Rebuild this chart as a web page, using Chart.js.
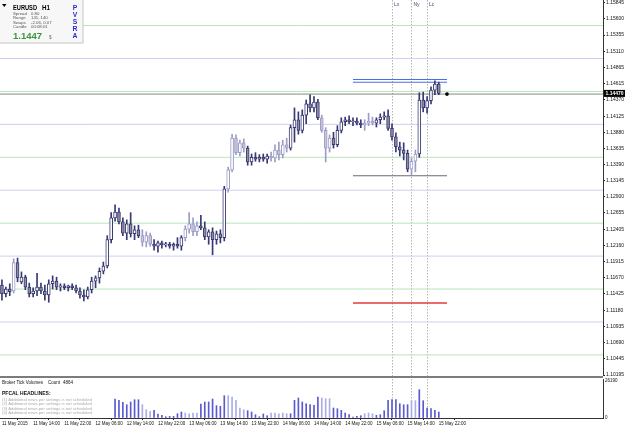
<!DOCTYPE html>
<html><head><meta charset="utf-8">
<script src="https://cdn.jsdelivr.net/npm/chart.js@4.4.1/dist/chart.umd.min.js"></script>
<style>
html,body{margin:0;padding:0;background:#fff;width:625px;height:429px;overflow:hidden}
#c1{position:absolute;left:0;top:0}
#c2{position:absolute;left:0;top:376px}
</style></head><body>
<canvas id="c1" width="625" height="376"></canvas>
<canvas id="c2" width="625" height="53"></canvas>
<script>
// ---------- DATA ----------
const xTickIdx = [0,8,16,24,32,40,48,56,64,72,80,88,96,104,112];
const xTickLabels = ["11 May 2015","11 May 14:00","11 May 22:00","12 May 06:00","12 May 14:00","12 May 22:00","13 May 06:00","13 May 14:00","13 May 22:00","14 May 06:00","14 May 14:00","14 May 22:00","15 May 06:00","15 May 14:00","15 May 22:00"];
const yTickValues = [1.15845,1.15600,1.15355,1.15110,1.14865,1.14615,1.14370,1.14125,1.13880,1.13635,1.13390,1.13145,1.12900,1.12655,1.12405,1.12160,1.11915,1.11670,1.11425,1.11180,1.10935,1.10690,1.10445,1.10195];

const openP = [1.1156,1.1143,1.1150,1.1147,1.1190,1.1161,1.1168,1.1153,1.1143,1.1147,
1.1153,1.1147,1.1141,1.1158,1.1162,1.1153,1.1155,1.1152,1.1155,1.1152,
1.1147,1.1141,1.1138,1.1149,1.1162,1.1167,1.1177,1.1185,1.1225,1.1258,
1.1267,1.1252,1.1235,1.1249,1.1234,1.1240,1.1231,1.1221,1.1231,1.1218,
1.1215,1.1220,1.1217,1.1218,1.1215,1.1218,1.1215,1.1228,1.1241,1.1249,
1.1237,1.1246,1.1243,1.1229,1.1237,1.1225,1.1234,1.1228,1.1302,1.1331,
1.1379,1.1357,1.1372,1.1364,1.1343,1.1350,1.1347,1.1350,1.1347,1.1352,
1.1349,1.1361,1.1354,1.1369,1.1364,1.1395,1.1407,1.1391,1.1414,1.1431,
1.1425,1.1434,1.1410,1.1391,1.1364,1.1379,1.1369,1.1391,1.1404,1.1407,
1.1404,1.1405,1.1402,1.1399,1.1402,1.1405,1.1402,1.1407,1.1411,1.1413,
1.1394,1.1381,1.1366,1.1361,1.1356,1.1332,1.1344,1.1355,1.1437,1.1425,
1.1436,1.1452,1.1461];
const highP = [1.1164,1.1153,1.1158,1.1196,1.1197,1.1176,1.1171,1.1159,1.1152,1.1174,
1.1159,1.1156,1.1164,1.1170,1.1168,1.1158,1.1158,1.1156,1.1158,1.1156,
1.1152,1.1149,1.1153,1.1168,1.1170,1.1182,1.1191,1.1231,1.1266,1.1278,
1.1273,1.1258,1.1255,1.1266,1.1246,1.1247,1.1240,1.1237,1.1235,1.1225,
1.1223,1.1223,1.1221,1.1221,1.1220,1.1228,1.1231,1.1246,1.1266,1.1258,
1.1252,1.1262,1.1252,1.1240,1.1243,1.1238,1.1240,1.1306,1.1335,1.1385,
1.1384,1.1376,1.1378,1.1367,1.1355,1.1357,1.1354,1.1355,1.1355,1.1358,
1.1369,1.1373,1.1376,1.1379,1.1399,1.1425,1.1419,1.1422,1.1437,1.1445,
1.1442,1.1438,1.1414,1.1395,1.1384,1.1388,1.1398,1.1410,1.1411,1.1413,
1.1410,1.1410,1.1407,1.1407,1.1417,1.1411,1.1410,1.1416,1.1419,1.1422,
1.1401,1.1387,1.1373,1.1372,1.1361,1.1349,1.1361,1.1448,1.1449,1.1442,
1.1457,1.1466,1.1464];
const lowP = [1.1133,1.1138,1.1140,1.1144,1.1161,1.1158,1.1149,1.1138,1.1138,1.1140,
1.1143,1.1133,1.1130,1.1150,1.1149,1.1147,1.1149,1.1147,1.1149,1.1144,
1.1136,1.1132,1.1135,1.1144,1.1152,1.1159,1.1173,1.1182,1.1220,1.1253,
1.1249,1.1231,1.1225,1.1229,1.1225,1.1228,1.1215,1.1214,1.1215,1.1209,
1.1206,1.1212,1.1214,1.1212,1.1209,1.1212,1.1209,1.1223,1.1235,1.1231,
1.1231,1.1240,1.1225,1.1218,1.1202,1.1218,1.1220,1.1223,1.1297,1.1328,
1.1354,1.1352,1.1358,1.1338,1.1338,1.1344,1.1343,1.1344,1.1341,1.1344,
1.1343,1.1346,1.1349,1.1358,1.1361,1.1373,1.1385,1.1387,1.1401,1.1419,
1.1419,1.1407,1.1388,1.1343,1.1358,1.1364,1.1366,1.1387,1.1398,1.1401,
1.1398,1.1399,1.1395,1.1391,1.1398,1.1399,1.1396,1.1401,1.1407,1.1391,
1.1376,1.1358,1.1352,1.1346,1.1328,1.1323,1.1328,1.1350,1.1419,1.1417,
1.1431,1.1445,1.1445];
const closeP = [1.1143,1.1150,1.1146,1.1190,1.1167,1.1168,1.1153,1.1143,1.1147,1.1153,
1.1147,1.1141,1.1158,1.1162,1.1153,1.1155,1.1152,1.1155,1.1152,1.1147,
1.1141,1.1138,1.1149,1.1162,1.1167,1.1177,1.1185,1.1225,1.1258,1.1267,
1.1252,1.1235,1.1249,1.1234,1.1240,1.1231,1.1221,1.1231,1.1218,1.1215,
1.1220,1.1217,1.1218,1.1215,1.1218,1.1215,1.1228,1.1241,1.1249,1.1237,
1.1246,1.1243,1.1229,1.1237,1.1225,1.1234,1.1228,1.1302,1.1331,1.1379,
1.1357,1.1372,1.1364,1.1343,1.1350,1.1347,1.1350,1.1347,1.1352,1.1349,
1.1361,1.1354,1.1369,1.1364,1.1395,1.1407,1.1391,1.1414,1.1431,1.1425,
1.1434,1.1410,1.1391,1.1364,1.1379,1.1369,1.1391,1.1404,1.1407,1.1404,
1.1405,1.1402,1.1399,1.1402,1.1405,1.1402,1.1407,1.1411,1.1413,1.1394,
1.1381,1.1366,1.1361,1.1356,1.1332,1.1344,1.1355,1.1437,1.1425,1.1436,
1.1452,1.1461,1.1447];

const volumes = [null,null,null,null,null,null,null,null,null,null,
null,null,null,null,null,null,null,null,null,null,
null,null,null,null,null,null,null,null,null,
13450,12530,11110,9420,11330,12960,12960,
9420,5880,4740,5450,2830,1910,920,1200,1200,3040,4250,3540,3040,3540,3540,
9910,11330,11330,13450,8710,8280,15790,15790,14870,12530,7080,5880,
5170,4250,2340,920,2830,1630,3540,3540,3040,3540,3040,3040,
12530,14160,11330,10120,9420,8990,14870,14160,13660,13660,
7080,6580,5450,3540,2340,710,1200,1630,3040,3540,3040,1910,2340,5170,
12530,12960,12960,10120,9420,9420,12250,12250,20040,12250,7080,6580,5450,4250];
// PVSRA volume class per bar: h = above average, l = low ("-" = not shown)
const volClass = ("-".repeat(29) + "hhhhhhh"+"lll"+"hhhhhhhh"+"llll"+"hhhhhhh"+"lllll"+"hhhhhh"+"lllll"+"hhhhhhhh"+"lll"+"hhhhhhhh"+"lll"+"hhhhhhhhh"+"ll"+"hhhhhh").split("");

const greenLevels = [1.1050,1.1150,1.1250,1.1350,1.1450,1.1550];
const lavenderLevels = [1.1100,1.1200,1.1300,1.1400,1.1500];
const bidPrice = 1.1447;
const dayHighLines = [1.1468,1.1464];
const dayLowLine = 1.1322;
const targetLine = 1.1129;
const zoneFrom = 90, zoneTo = 114.1;
const sessionIdx = [100,105,109];
const sessionNames = ["Lx","Ny","Lc"];
const infoRows = [["Spread","0.80"],["Range","141, 140"],["Swaps","-2.06, 0.07"],["Candle","00:08:01"]];
const newsLines = ["(1) Additional news per settings is not scheduled","(2) Additional news per settings is not scheduled","(3) Additional news per settings is not scheduled","(4) Additional news per settings is not scheduled"];

// ---------- CHART ----------
const FONT = '"Liberation Sans", Arial, sans-serif';
Chart.defaults.font.family = FONT;
const xMin = -0.5, xMax = 154.1;
const yMin = 1.10180, yMax = 1.15888;
const idx = openP.map((_, i) => i);
const NAVY = '#383872';
const LIGHT = '#9c9cc6';

function hLine(v, a, b, color, w, order) {
  return {type:'line', data:[{x:a,y:v},{x:b,y:v}], borderColor:color, borderWidth:w,
    pointRadius:0, order:order, tension:0};
}
function noPad(s){ s.paddingTop = 0; s.paddingBottom = 0; s.paddingLeft = 0; s.paddingRight = 0; }

const sessionPlugin = {
  id:'sessions',
  beforeDatasetsDraw(chart) {
    const {ctx, chartArea, scales} = chart;
    ctx.save();
    ctx.strokeStyle = '#b4b4b4';
    ctx.lineWidth = 1;
    ctx.setLineDash([1.5, 1.5]);
    sessionIdx.forEach(i => {
      const x = Math.round(scales.x.getPixelForValue(i)) + 0.5;
      ctx.beginPath(); ctx.moveTo(x, chartArea.top); ctx.lineTo(x, chartArea.bottom); ctx.stroke();
    });
    ctx.restore();
  }
};

const mainPlugin = {
  id:'mainDecor',
  afterDraw(chart) {
    const {ctx, scales} = chart;
    ctx.save();
    ctx.fillStyle = '#4a4a7a';
    ctx.font = '5px ' + FONT;
    ctx.textBaseline = 'middle';
    sessionIdx.forEach((i, k) => {
      const x = scales.x.getPixelForValue(i);
      ctx.fillText(sessionNames[k], x + 2, 5);
    });
    const yb = scales.y.getPixelForValue(bidPrice);
    ctx.fillStyle = '#000';
    ctx.fillRect(604, yb - 3.5, 21, 7);
    ctx.fillStyle = '#fff';
    ctx.font = 'bold 5px ' + FONT;
    ctx.textAlign = 'left';
    ctx.fillText(bidPrice.toFixed(5), 605.5, yb + 0.3);
    // info box
    ctx.fillStyle = '#f7f7f7';
    ctx.fillRect(0, 0, 83, 43);
    ctx.strokeStyle = '#c4c4c4';
    ctx.lineWidth = 1;
    ctx.strokeRect(-0.5, -0.5, 83.5, 43.5);
    ctx.fillStyle = '#000';
    ctx.beginPath(); ctx.moveTo(2, 4); ctx.lineTo(6.5, 4); ctx.lineTo(4.25, 7); ctx.closePath(); ctx.fill();
    ctx.textBaseline = 'alphabetic';
    ctx.font = 'bold 7px ' + FONT;
    ctx.fillText('EURUSD', 13, 9.5, 24);
    ctx.fillText('H1', 42, 9.5, 8);
    ctx.font = '4.3px ' + FONT;
    ctx.fillStyle = '#555';
    infoRows.forEach((r, k) => {
      const y = 15 + k * 4.35;
      ctx.fillText(r[0], 13, y);
      ctx.fillText(r[1], 31, y);
    });
    ctx.fillStyle = '#38973a';
    ctx.font = 'bold 9.5px ' + FONT;
    ctx.fillText(bidPrice.toFixed(4), 13, 39, 35);
    ctx.fillStyle = '#666';
    ctx.font = '4.5px ' + FONT;
    ctx.fillText('$', 49, 38.5);
    ctx.fillStyle = '#2a2ad6';
    ctx.font = 'bold 6.8px ' + FONT;
    ctx.textAlign = 'center';
    'PVSRA'.split('').forEach((c, k) => ctx.fillText(c, 75, 10 + k * 7.1));
    ctx.restore();
  }
};

const isLight = i => volClass[i] === 'l' || i === 3;
const mainDatasets = [];
greenLevels.forEach(v => mainDatasets.push(hLine(v, xMin, xMax, '#b8e6b8', 1, 20)));
lavenderLevels.forEach(v => mainDatasets.push(hLine(v, xMin, xMax, '#cfcff2', 1, 20)));
mainDatasets.push(hLine(bidPrice - 0.0001, xMin, xMax, '#7f8c80', 1, 15));
dayHighLines.forEach(v => mainDatasets.push(hLine(v, zoneFrom, zoneTo, '#4a6fe6', 1.1, 5)));
mainDatasets.push(hLine(dayLowLine, zoneFrom, zoneTo, '#6f6478', 1.1, 5));
mainDatasets.push(hLine(targetLine, zoneFrom, zoneTo, '#e23b3b', 1.5, 5));
mainDatasets.push({type:'bar', data: idx.map(i => ({x:i, y:[lowP[i], highP[i]]})),
  backgroundColor: idx.map(i => isLight(i) ? LIGHT : NAVY), barThickness:1, grouped:false, order:3});
mainDatasets.push({type:'bar', data: idx.map(i => ({x:i, y:[openP[i], closeP[i]]})),
  backgroundColor: idx.map(i => closeP[i] >= openP[i] ? '#ffffff' : (isLight(i) ? '#c6c6d8' : '#8d8da0')),
  borderColor: idx.map(i => isLight(i) ? LIGHT : NAVY),
  borderWidth:1, borderSkipped:false, barThickness:3, minBarLength:1,
  grouped:false, order:2});
mainDatasets.push({type:'scatter', data:[{x:zoneTo, y:bidPrice - 0.0001}], pointStyle:'rect',
  pointRadius:1.6, backgroundColor:'#000', borderColor:'#000', order:1});

new Chart(document.getElementById('c1'), {
  type:'bar',
  data:{datasets: mainDatasets},
  options:{
    responsive:false, animation:false, devicePixelRatio:1,
    layout:{padding:0, autoPadding:false},
    plugins:{legend:{display:false}, tooltip:{enabled:false}},
    scales:{
      x:{type:'linear', min:xMin, max:xMax, offset:false, display:false},
      y:{position:'right', min:yMin, max:yMax,
        afterBuildTicks(s){ s.ticks = yTickValues.map(v => ({value:v})); },
        afterFit(s){ s.width = 22; noPad(s); },
        ticks:{callback:v => Number(v).toFixed(5), font:{size:5}, color:'#111', padding:1, autoSkip:false},
        grid:{drawOnChartArea:false, color:'#222', tickLength:2},
        border:{color:'#333', width:1}}
    }
  },
  plugins:[sessionPlugin, mainPlugin]
});

const volPlugin = {
  id:'volDecor',
  beforeDraw(chart) {
    const {ctx} = chart;
    ctx.save();
    ctx.fillStyle = '#7c7c7c';
    ctx.fillRect(0, 0, 603, 2);
    ctx.restore();
  },
  afterDraw(chart) {
    const {ctx} = chart;
    ctx.save();
    ctx.textBaseline = 'alphabetic';
    ctx.fillStyle = '#111';
    ctx.font = '4.5px ' + FONT;
    ctx.fillText('Broker Tick Volumes', 2, 8);
    ctx.fillText('Count', 48, 8);
    ctx.fillText('4864', 63, 8);
    ctx.font = 'bold 5px ' + FONT;
    ctx.fillText('PFCAL HEADLINES:', 2, 19);
    ctx.fillStyle = '#a9a9a9';
    ctx.font = '4.2px ' + FONT;
    newsLines.forEach((t, k) => ctx.fillText(t, 2, 24.5 + k * 4.6));
    ctx.restore();
  }
};

new Chart(document.getElementById('c2'), {
  type:'bar',
  data:{datasets:[{
    data: idx.filter(i => volumes[i] !== null).map(i => ({x:i, y:volumes[i]})),
    backgroundColor: c => (c.raw && volClass[c.raw.x] === 'l') ? '#abaee6' : '#5a5ad0',
    barThickness:1, grouped:false
  }]},
  options:{
    responsive:false, animation:false, devicePixelRatio:1,
    layout:{padding:{top:3, left:0, right:0, bottom:0}, autoPadding:false},
    plugins:{legend:{display:false}, tooltip:{enabled:false}},
    scales:{
      x:{type:'linear', min:xMin, max:xMax, offset:false, position:'bottom',
        afterBuildTicks(s){ s.ticks = xTickIdx.map(v => ({value:v})); },
        afterFit(s){ s.height = 11; noPad(s); },
        ticks:{callback:(v, k) => xTickLabels[k], align:'start', maxRotation:0, minRotation:0,
          autoSkip:false, font:{size:4.5}, color:'#111', padding:1},
        grid:{drawOnChartArea:false, color:'#222', tickLength:2},
        border:{color:'#333', width:1}},
      y:{position:'right', min:0, max:27606,
        afterBuildTicks(s){ s.ticks = [{value:0},{value:26190}]; },
        afterFit(s){ s.width = 22; noPad(s); },
        ticks:{font:{size:4.5}, color:'#111', padding:2, callback:v => String(v)},
        grid:{drawOnChartArea:false, tickLength:0},
        border:{color:'#333', width:1}}
    }
  },
  plugins:[sessionPlugin, volPlugin]
});
</script>
</body></html>
